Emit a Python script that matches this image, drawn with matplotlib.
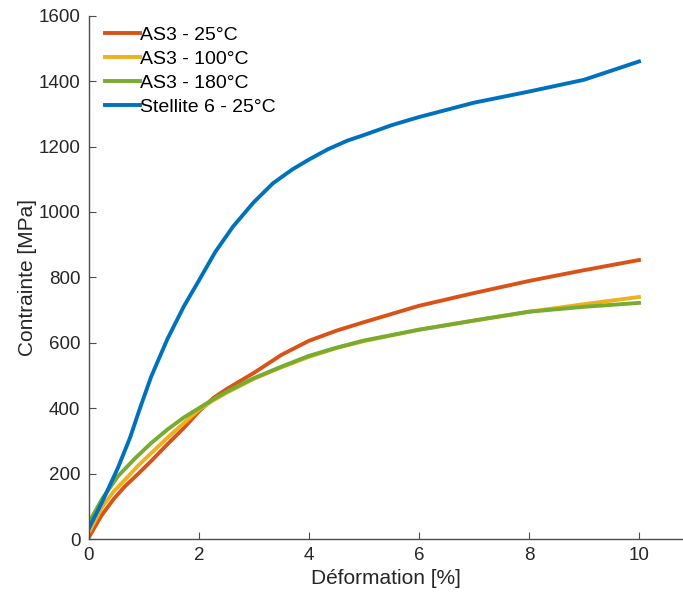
import numpy as np
import matplotlib.pyplot as plt

plt.rcParams['font.family'] = ['Liberation Sans', 'DejaVu Sans']

# strain [%] / stress [MPa]
x_as3_25 = [0, 0.23, 0.45, 0.65, 0.9, 1.13, 1.43, 1.73, 2.0, 2.27, 2.5, 3.0, 3.5, 4.0, 4.5, 5.0, 6.0, 7.0, 8.0, 9.0, 10.0]
y_as3_25 = [5, 72, 122, 160, 200, 238, 290, 340, 390, 432, 458, 508, 563, 606, 637, 663, 713, 752, 789, 822, 853]

x_as3_100 = [0, 0.25, 0.45, 0.65, 0.9, 1.13, 1.43, 1.73, 2.0, 2.27, 2.5, 3.0, 3.5, 4.0, 4.5, 5.0, 6.0, 7.0, 8.0, 9.0, 10.0]
y_as3_100 = [20, 100, 145, 180, 225, 262, 310, 355, 395, 425, 447, 490, 525, 557, 584, 605, 640, 668, 695, 718, 740]

x_as3_180 = [0, 0.25, 0.53, 0.83, 1.13, 1.43, 1.73, 2.0, 2.27, 2.5, 3.0, 3.5, 4.0, 4.5, 5.0, 6.0, 7.0, 8.0, 9.0, 10.0]
y_as3_180 = [50, 125, 192, 245, 293, 335, 372, 400, 428, 450, 492, 527, 560, 585, 607, 640, 668, 695, 710, 722]

x_stellite = [0, 0.25, 0.53, 0.75, 0.92, 1.13, 1.43, 1.73, 2.0, 2.3, 2.62, 3.0, 3.35, 3.7, 4.0, 4.35, 4.7, 5.0, 5.5, 6.0, 7.0, 8.0, 9.0, 10.0]
y_stellite = [32, 116, 218, 310, 395, 495, 612, 712, 790, 878, 955, 1030, 1088, 1130, 1160, 1192, 1218, 1235, 1265, 1290, 1334, 1368, 1404, 1460]

labels = ['AS3 - 25°C', 'AS3 - 100°C', 'AS3 - 180°C', 'Stellite 6 - 25°C']
colors = ['#D95319', '#EDB120', '#77AC30', '#0072BD']

fig = plt.figure(figsize=(6.83, 6.03), dpi=100)
ax = fig.add_axes([0.130, 0.106, 0.870, 0.868])

series = [(x_as3_25, y_as3_25), (x_as3_100, y_as3_100),
          (x_as3_180, y_as3_180), (x_stellite, y_stellite)]
for (xs, ys), lab, c in zip(series, labels, colors):
    ax.plot(xs, ys, color=c, lw=2.8, label=lab, solid_joinstyle='round')

ax.set_xlim(0, 10.8)
ax.set_ylim(0, 1600)
ax.set_xticks(np.arange(0, 11, 2))
ax.set_yticks(np.arange(0, 1601, 200))

grey = '#262626'
for side in ['top', 'right']:
    ax.spines[side].set_visible(False)
for side in ['left', 'bottom']:
    ax.spines[side].set_color('#4d4d4d')
    ax.spines[side].set_linewidth(1.0)
ax.tick_params(direction='in', length=5, width=0.8, color='#4d4d4d',
               labelsize=13.5, labelcolor=grey, pad=6)

ax.set_xlabel('Déformation [%]', fontsize=15, color=grey, labelpad=3)
ax.set_ylabel('Contrainte [MPa]', fontsize=15, color=grey, labelpad=1)

ax.legend(loc='upper left', frameon=False, fontsize=14, handlelength=1.75,
          handletextpad=0.0, labelspacing=0.33, borderaxespad=0.0,
          bbox_to_anchor=(0.015, 0.995))

fig.savefig('out.png', dpi=100)
